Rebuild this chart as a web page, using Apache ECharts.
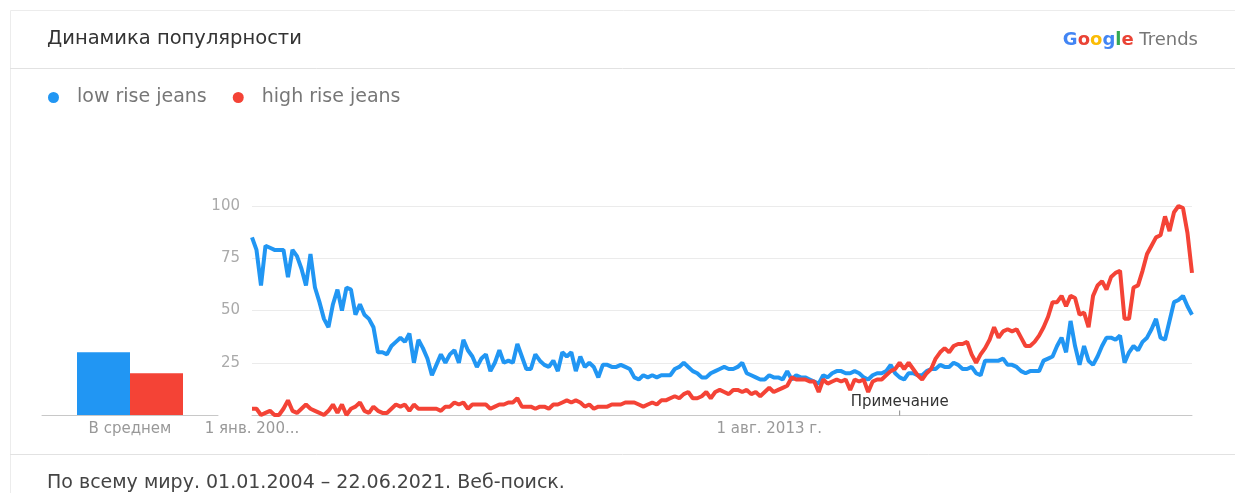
<!DOCTYPE html>
<html>
<head>
<meta charset="utf-8">
<script src="https://cdn.jsdelivr.net/npm/echarts@6/dist/echarts.min.js"></script>
<style>
html,body{margin:0;padding:0;background:#fff;}
#chart{width:1235px;height:493px;}
</style>
</head>
<body>
<div id="chart"></div>
<script>
// ---------- data ----------
const seriesNames = ['low rise jeans', 'high rise jeans'];
const seriesColors = ['#2196f3', '#f44336'];

// monthly categories Jan 2004 .. Jun 2021
const startYear = 2004;
const monthCount = 210;
const months = [];
for (let i = 0; i < monthCount; i++) {
  const y = startYear + Math.floor(i / 12), m = i % 12 + 1;
  months.push(y + '-' + (m < 10 ? '0' : '') + m);
}

const lowRise = [
  85,79,62,81,80,79,79,79,66,79,76,70,
  62,77,61,54,46,42,53,60,50,61,60,48,
  53,48,46,42,30,30,29,33,35,37,35,39,
  25,36,32,27,19,24,29,25,29,31,25,36,
  31,28,23,27,29,21,25,31,25,26,25,34,
  28,22,22,29,26,24,23,26,21,30,28,30,
  21,28,23,25,23,18,24,24,23,23,24,23,
  22,18,17,19,18,19,18,19,19,19,22,23,
  25,23,21,20,18,18,20,21,22,23,22,22,
  23,25,20,19,18,17,17,19,18,18,17,21,
  17,19,18,18,17,16,15,19,18,20,21,21,
  20,20,21,20,18,17,19,20,20,21,24,20,
  18,17,20,20,19,19,21,22,22,24,23,23,
  25,24,22,22,23,20,19,26,26,26,26,27,
  24,24,23,21,20,21,21,21,26,27,28,33,
  37,30,45,33,24,33,26,24,28,33,37,37,
  36,38,25,30,33,31,35,37,41,46,37,36,
  45,54,55,57,52,48
];

const highRise = [
  3,3,0,1,2,0,0,3,7,2,1,3,
  5,3,2,1,0,2,5,1,5,0,3,4,
  6,2,1,4,2,1,1,3,5,4,5,2,
  5,3,3,3,3,3,2,4,4,6,5,6,
  3,5,5,5,5,3,4,5,5,6,6,8,
  4,4,4,3,4,4,3,5,5,6,7,6,
  7,6,4,5,3,4,4,4,5,5,5,6,
  6,6,5,4,5,6,5,7,7,8,9,8,
  10,11,8,8,9,11,8,11,12,11,10,12,
  12,11,12,10,11,9,11,13,11,12,13,14,
  18,17,17,17,16,16,11,17,15,16,17,16,
  17,12,17,16,17,11,16,17,17,19,21,22,
  25,22,25,22,19,17,20,22,27,30,32,30,
  33,34,34,35,29,25,29,32,36,42,37,40,
  41,40,41,37,33,33,35,38,42,47,54,54,
  57,52,57,56,48,49,42,57,62,64,60,66,
  68,69,46,46,61,62,69,77,81,85,86,95,
  88,97,100,99,87,68
];

const averageCategory = ['В среднем'];
const averageValues = [30, 20];

const xTickMonths = ['2004-01', '2013-08'];
const xTickLabels = ['1 янв. 200...', '1 авг. 2013 г.'];
const noteMonth = '2016-01';
const noteLabel = 'Примечание';

const titleText = 'Динамика популярности';
const footerText = 'По всему миру. 01.01.2004 – 22.06.2021. Веб-поиск.';

// ---------- chart ----------
const FONT = 'DejaVu Sans';
const chart = echarts.init(document.getElementById('chart'), null, {renderer: 'canvas'});

const option = {
  animation: false,
  backgroundColor: '#fff',
  textStyle: {fontFamily: FONT},
  legend: {
    left: 43, top: 83,
    icon: 'circle', itemWidth: 11, itemHeight: 11, itemGap: 26,
    data: seriesNames,
    textStyle: {fontSize: 19, color: '#777', fontFamily: FONT, padding: [0, 0, 0, 13]}
  },
  grid: [
    {left: 42, width: 176, top: 206, bottom: 78},
    {left: 252, right: 43, top: 206, bottom: 78}
  ],
  xAxis: [
    {
      gridIndex: 0, type: 'category', data: averageCategory,
      axisLine: {lineStyle: {color: '#c8c8c8'}}, axisTick: {show: false},
      axisLabel: {color: '#999', fontSize: 15, margin: 7, fontFamily: FONT}
    },
    {
      gridIndex: 1, type: 'category', data: months, boundaryGap: false,
      axisLine: {lineStyle: {color: '#c8c8c8'}}, axisTick: {show: false},
      axisLabel: {
        interval: function (i, v) { return xTickMonths.indexOf(v) >= 0; },
        formatter: function (v) { const k = xTickMonths.indexOf(v); return k >= 0 ? xTickLabels[k] : ''; },
        color: '#999', fontSize: 15, margin: 7, fontFamily: FONT
      },
      splitLine: {show: false}
    }
  ],
  yAxis: [
    {gridIndex: 0, type: 'value', min: 0, max: 100, interval: 25, show: false},
    {
      gridIndex: 1, type: 'value', min: 0, max: 100, interval: 25,
      axisLine: {show: false}, axisTick: {show: false},
      axisLabel: {formatter: function (v) { return v === 0 ? '' : v; }, color: '#aaa', fontSize: 15, margin: 12, fontFamily: FONT},
      splitLine: {lineStyle: {color: '#ebebeb'}}
    }
  ],
  series: [
    {
      name: seriesNames[0], type: 'bar', xAxisIndex: 0, yAxisIndex: 0,
      data: [averageValues[0]], barWidth: 53, barGap: '0%',
      itemStyle: {color: seriesColors[0]}
    },
    {
      name: seriesNames[1], type: 'bar', xAxisIndex: 0, yAxisIndex: 0,
      data: [averageValues[1]], barWidth: 53, barGap: '0%',
      itemStyle: {color: seriesColors[1]}
    },
    {
      name: seriesNames[0], type: 'line', xAxisIndex: 1, yAxisIndex: 1,
      data: lowRise, symbol: 'none', showSymbol: false,
      lineStyle: {width: 4, color: seriesColors[0]}, itemStyle: {color: seriesColors[0]}
    },
    {
      name: seriesNames[1], type: 'line', xAxisIndex: 1, yAxisIndex: 1,
      data: highRise, symbol: 'none', showSymbol: false,
      lineStyle: {width: 4, color: seriesColors[1]}, itemStyle: {color: seriesColors[1]},
      markPoint: {
        silent: true,
        data: [{
          coord: [noteMonth, 0], symbol: 'rect', symbolSize: [1, 5], symbolOffset: [0, -2],
          itemStyle: {color: '#888'},
          label: {show: true, position: 'top', distance: 1, formatter: noteLabel, color: '#333', fontSize: 15, fontFamily: FONT}
        }]
      }
    }
  ],
  graphic: [
    {type: 'rect', z: -1, shape: {x: 10.5, y: 10.5, width: 1240, height: 500}, style: {fill: 'none', stroke: '#ececec', lineWidth: 1}},
    {type: 'line', shape: {x1: 10, y1: 68.5, x2: 1235, y2: 68.5}, style: {stroke: '#e2e2e2', lineWidth: 1}},
    {type: 'line', shape: {x1: 10, y1: 454.5, x2: 1235, y2: 454.5}, style: {stroke: '#e2e2e2', lineWidth: 1}},
    {type: 'text', x: 47, y: 39, style: {text: titleText, font: '19.5px "DejaVu Sans"', fill: '#333', verticalAlign: 'middle'}},
    {type: 'text', x: 47, y: 483, style: {text: footerText, font: '19px "DejaVu Sans"', fill: '#444', verticalAlign: 'middle'}},
    {
      type: 'text', x: 1198, y: 40,
      style: {
        text: '{b|G}{r|o}{y|o}{b|g}{g|l}{r|e}{t| Trends}',
        align: 'right', verticalAlign: 'middle',
        rich: {
          b: {fill: '#4285f4', font: 'bold 18px "DejaVu Sans"'},
          r: {fill: '#ea4335', font: 'bold 18px "DejaVu Sans"'},
          y: {fill: '#fbbc05', font: 'bold 18px "DejaVu Sans"'},
          g: {fill: '#34a853', font: 'bold 18px "DejaVu Sans"'},
          t: {fill: '#777', font: '18px "DejaVu Sans"'}
        }
      }
    }
  ]
};
chart.setOption(option);
</script>
</body>
</html>
